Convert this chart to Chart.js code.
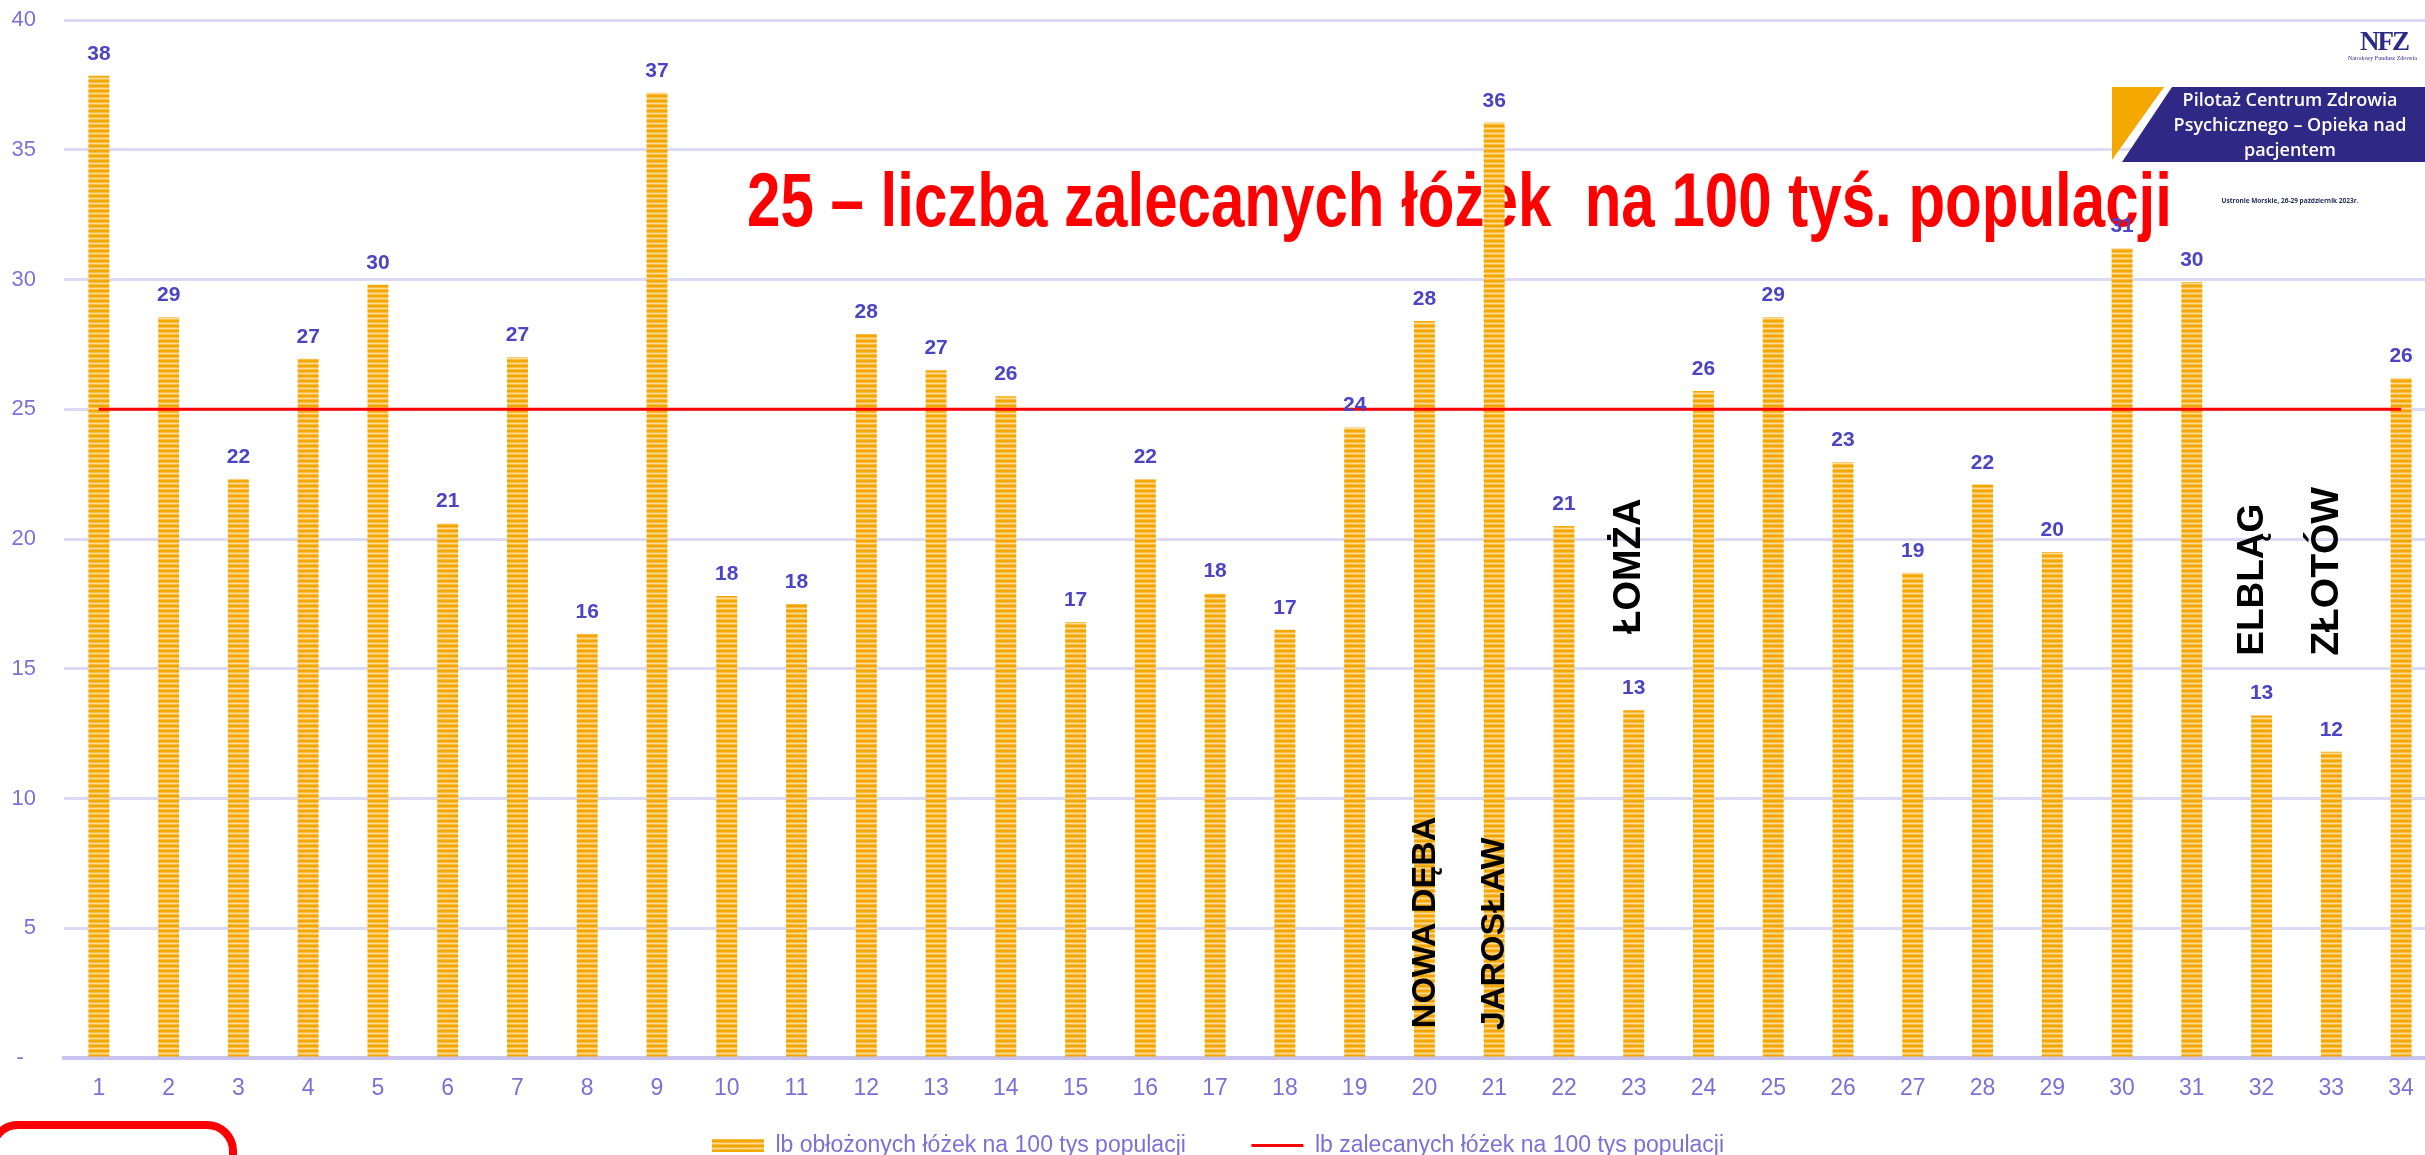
<!DOCTYPE html>
<html lang="pl">
<head>
<meta charset="utf-8">
<title>Łóżka na 100 tys populacji</title>
<script src="https://cdn.jsdelivr.net/npm/chart.js@4.4.1/dist/chart.umd.min.js"></script>
<style>
  html, body { margin: 0; padding: 0; background: #fff; overflow: hidden; width: 2425px; height: 1155px; }
  #wrap { position: relative; width: 2425px; height: 1155px; }
  #c { position: absolute; left: 0; top: 0; z-index: 2; }
  .title {
    position: absolute; left: 747px; top: 162px; z-index: 1;
    font: bold 76px "Liberation Sans", Arial, sans-serif; line-height: 76px;
    color: #ff0000; white-space: pre; transform: scaleX(0.79); transform-origin: 0 0;
  }
  .redbox {
    position: absolute; left: -12px; top: 1121px; width: 249px; height: 100px;
    box-sizing: border-box; border: 8px solid #ff0000; border-radius: 30px; z-index: 3;
  }
  .nfz {
    position: absolute; left: 2360px; top: 26px; z-index: 3;
    font: bold 27px "Liberation Serif", serif; letter-spacing: -2px; color: #2b2a86;
  }
  .nfz-sub {
    position: absolute; left: 2348px; top: 55px; z-index: 3;
    font: 6px "Liberation Serif", serif; color: #2b2a86; white-space: nowrap;
  }
  .banner { position: absolute; left: 2100px; top: 85px; z-index: 3; }
  .banner-text {
    position: absolute; left: 2160px; top: 87px; width: 260px; z-index: 4;
    font: 600 18px "Open Sans", sans-serif; line-height: 25px; color: #fff; text-align: center;
  }
  .place {
    position: absolute; left: 2190px; top: 196px; width: 200px; z-index: 3; text-align: center;
    font: bold 6.5px "Open Sans", sans-serif; color: #1f2a5a; white-space: nowrap;
  }
</style>
</head>
<body>
<div id="wrap">
  <div class="title">25 – liczba zalecanych łóżek  na 100 tyś. populacji</div>
  <canvas id="c" width="2440" height="1167" style="width:2440px;height:1167px"></canvas>
  <div class="redbox"></div>
  <div class="nfz">NFZ</div>
  <div class="nfz-sub">Narodowy Fundusz Zdrowia</div>
  <svg class="banner" width="340" height="80" viewBox="0 0 340 80">
    <polygon points="12,2 64,2 12,75" fill="#f5a800"/>
    <polygon points="72,2 340,2 340,77 22,77" fill="#2f2884"/>
  </svg>
  <div class="banner-text">Pilotaż Centrum Zdrowia<br>Psychicznego – Opieka nad<br>pacjentem</div>
  <div class="place">Ustronie Morskie, 26-29 październik 2023r.</div>
</div>
<script>
const categories = ['1','2','3','4','5','6','7','8','9','10','11','12','13','14','15','16','17',
  '18','19','20','21','22','23','24','25','26','27','28','29','30','31','32','33','34'];

// lb obłożonych łóżek na 100 tys populacji
const occupiedBeds = [37.85, 28.55, 22.3, 26.95, 29.8, 20.6, 27.0, 16.35, 37.2, 17.8, 17.5, 27.9,
  26.5, 25.5, 16.8, 22.3, 17.9, 16.5, 24.3, 28.4, 36.05, 20.5, 13.4, 25.7, 28.55, 22.96, 18.7,
  22.1, 19.5, 31.2, 29.9, 13.2, 11.8, 26.2];

// lb zalecanych łóżek na 100 tys populacji
const recommendedBeds = [25, 25, 25, 25, 25, 25, 25, 25, 25, 25, 25, 25, 25, 25, 25, 25, 25,
  25, 25, 25, 25, 25, 25, 25, 25, 25, 25, 25, 25, 25, 25, 25, 25, 25];

const seriesNames = ['lb obłożonych łóżek na 100 tys populacji', 'lb zalecanych łóżek na 100 tys populacji'];

// town names written over the chart: category, start value on y, small pixel nudge
const townNotes = [
  { text: 'NOWA DĘBA', cat: '20', value: 1.15, dx: 11, size: 34 },
  { text: 'JAROSŁAW', cat: '21', value: 1.08, dx: 10, size: 34 },
  { text: 'ŁOMŻA', cat: '23', value: 16.35, dx: 6, size: 38 },
  { text: 'ELBLĄG', cat: '32', value: 15.5, dx: 1, size: 37 },
  { text: 'ZŁOTÓW', cat: '33', value: 15.5, dx: 7, size: 39 }
];

// striped orange fill like the original bars
function stripes() {
  const p = document.createElement('canvas');
  p.width = 4; p.height = 5;
  const g = p.getContext('2d');
  const rows = ['#f4a600', '#f4a600', '#f8bd45', '#fcdb95', '#f8bd45'];
  rows.forEach((col, i) => { g.fillStyle = col; g.fillRect(0, i, 4, 1); });
  return g.createPattern(p, 'repeat');
}

const valueLabels = {
  id: 'valueLabels',
  afterDatasetsDraw(chart) {
    const ctx = chart.ctx;
    const meta = chart.getDatasetMeta(0);
    ctx.save();
    ctx.font = 'bold 21px "Liberation Sans", Arial, sans-serif';
    ctx.fillStyle = '#4b44c4';
    ctx.textAlign = 'center';
    ctx.textBaseline = 'alphabetic';
    meta.data.forEach((bar, i) => {
      ctx.fillText(Math.round(occupiedBeds[i]), bar.x, bar.y - 16);
    });
    ctx.restore();
  }
};

const townLabels = {
  id: 'townLabels',
  afterDatasetsDraw(chart) {
    const ctx = chart.ctx;
    const xs = chart.scales.x, ys = chart.scales.y;
    ctx.save();
    ctx.fillStyle = '#000';
    ctx.textAlign = 'left';
    ctx.textBaseline = 'alphabetic';
    townNotes.forEach(n => {
      const x = xs.getPixelForValue(categories.indexOf(n.cat)) + n.dx;
      const y = ys.getPixelForValue(n.value);
      ctx.font = 'bold ' + n.size + 'px "Liberation Sans", Arial, sans-serif';
      ctx.translate(x, y);
      ctx.rotate(-Math.PI / 2);
      ctx.fillText(n.text, 0, 0);
      ctx.setTransform(1, 0, 0, 1, 0, 0);
    });
    ctx.restore();
  }
};

Chart.defaults.font.family = '"Liberation Sans", Arial, sans-serif';
const tickColor = '#7a70d8';

new Chart(document.getElementById('c'), {
  data: {
    labels: categories,
    datasets: [
      {
        type: 'bar',
        label: seriesNames[0],
        data: occupiedBeds,
        backgroundColor: stripes(),
        borderWidth: 0,
        barPercentage: 0.3,
        categoryPercentage: 1,
        pointStyle: 'rect',
        order: 1
      },
      {
        type: 'line',
        label: seriesNames[1],
        data: recommendedBeds,
        borderColor: '#ff0000',
        backgroundColor: '#ff0000',
        borderWidth: 3,
        pointRadius: 0,
        tension: 0,
        fill: false,
        pointStyle: 'line',
        order: 0
      }
    ]
  },
  options: {
    responsive: false,
    animation: false,
    devicePixelRatio: 1,
    layout: { padding: { top: 0, right: 4, left: 0, bottom: 0 } },
    plugins: {
      tooltip: { enabled: false },
      title: { display: false },
      legend: {
        position: 'bottom',
        labels: {
          usePointStyle: true,
          pointStyleWidth: 52,
          boxHeight: 13,
          padding: 14.4,
          color: tickColor,
          font: { size: 23 },
          sort: (a, b) => a.datasetIndex - b.datasetIndex,
          generateLabels: chart => {
            const items = Chart.defaults.plugins.legend.labels.generateLabels(chart);
            // wider gap after the bar entry, as in the original legend
            items.forEach(it => { if (it.datasetIndex === 0) it.text += '\u00a0'.repeat(8); });
            return items;
          }
        }
      }
    },
    scales: {
      x: {
        grid: { display: false, drawTicks: false },
        border: { display: true, color: '#c8c3ee', width: 4 },
        ticks: { color: tickColor, font: { size: 23 }, padding: 17, maxRotation: 0 }
      },
      y: {
        min: 0,
        max: 40,
        grid: { color: '#dcd9f5', lineWidth: 3, drawTicks: false },
        border: { display: false },
        ticks: {
          stepSize: 5,
          color: tickColor,
          font: { size: 22 },
          padding: 28,
          callback: v => (v === 0 ? '-  ' : v)
        },
        afterFit: s => { s.width = 64; s.paddingTop = 20; s.paddingBottom = 0; }
      }
    }
  },
  plugins: [valueLabels, townLabels]
});
</script>
</body>
</html>
